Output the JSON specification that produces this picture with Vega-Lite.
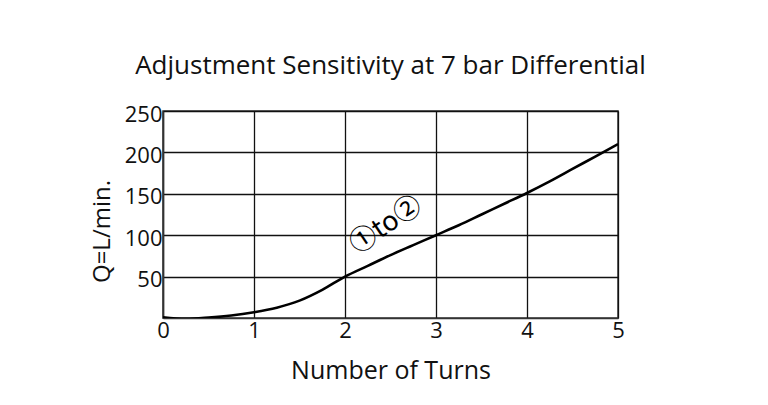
{
  "$schema": "https://vega.github.io/schema/vega-lite/v6.json",
  "autosize": "none",
  "width": 455,
  "height": 207,
  "padding": {"left": 163, "top": 111, "right": 150, "bottom": 87},
  "background": "white",
  "title": {
    "text": "Adjustment Sensitivity at 7 bar Differential",
    "font": "Open Sans",
    "fontSize": 26,
    "fontWeight": "normal",
    "color": "#111",
    "anchor": "middle",
    "baseline": "alphabetic",
    "offset": 3
  },
  "config": {
    "view": {"stroke": "#333", "strokeWidth": 1.5},
    "axis": {
      "labelFont": "Open Sans",
      "labelColor": "#111",
      "titleFont": "Open Sans",
      "titleFontWeight": "normal",
      "titleColor": "#111",
      "grid": true,
      "gridColor": "#111",
      "gridWidth": 1.3,
      "gridOpacity": 1,
      "domainColor": "#333",
      "domainWidth": 1.5,
      "ticks": false
    }
  },
  "layer": [
    {
      "data": {
        "values": [
          {"turns": 0, "q": 1},
          {"turns": 0.25, "q": -1},
          {"turns": 0.5, "q": 0.5},
          {"turns": 0.75, "q": 3},
          {"turns": 1, "q": 7},
          {"turns": 1.25, "q": 12.5},
          {"turns": 1.5, "q": 21},
          {"turns": 1.75, "q": 34},
          {"turns": 2, "q": 50},
          {"turns": 2.25, "q": 63},
          {"turns": 2.5, "q": 76},
          {"turns": 2.75, "q": 88},
          {"turns": 3, "q": 100},
          {"turns": 3.25, "q": 112},
          {"turns": 3.5, "q": 125},
          {"turns": 3.75, "q": 138},
          {"turns": 4, "q": 151},
          {"turns": 4.25, "q": 165},
          {"turns": 4.5, "q": 180},
          {"turns": 4.75, "q": 195},
          {"turns": 5, "q": 210}
        ]
      },
      "mark": {"type": "line", "color": "#000", "strokeWidth": 2.6, "interpolate": "monotone", "clip": true},
      "encoding": {
        "x": {
          "field": "turns",
          "type": "quantitative",
          "scale": {"domain": [0, 5], "nice": false, "zero": false},
          "axis": {
            "values": [0, 1, 2, 3, 4, 5],
            "format": "d",
            "title": "Number of Turns",
            "titleFontSize": 25,
            "titlePadding": 17,
            "labelFontSize": 22,
            "labelPadding": 2,
            "labelFlush": false
          }
        },
        "y": {
          "field": "q",
          "type": "quantitative",
          "scale": {"domain": [0, 250], "nice": false},
          "axis": {
            "values": [50, 100, 150, 200, 250],
            "gridValues": [0, 50, 100, 150, 200, 250],
            "title": "Q=L/min.",
            "titleFontSize": 24,
            "titlePadding": 10,
            "titleY": 120,
            "labelFontSize": 22,
            "labelPadding": 1,
            "labelBaseline": "middle",
            "labelOffset": 3,
            "labelFlush": false
          }
        }
      }
    },
    {
      "data": {"values": [{"turns": 2.45, "q": 112, "label": "①to②"}]},
      "mark": {"type": "text", "angle": 326, "font": "Noto Sans CJK JP", "fontSize": 27, "color": "#000", "align": "center", "baseline": "middle"},
      "encoding": {
        "x": {"field": "turns", "type": "quantitative"},
        "y": {"field": "q", "type": "quantitative"},
        "text": {"field": "label"}
      }
    }
  ]
}
